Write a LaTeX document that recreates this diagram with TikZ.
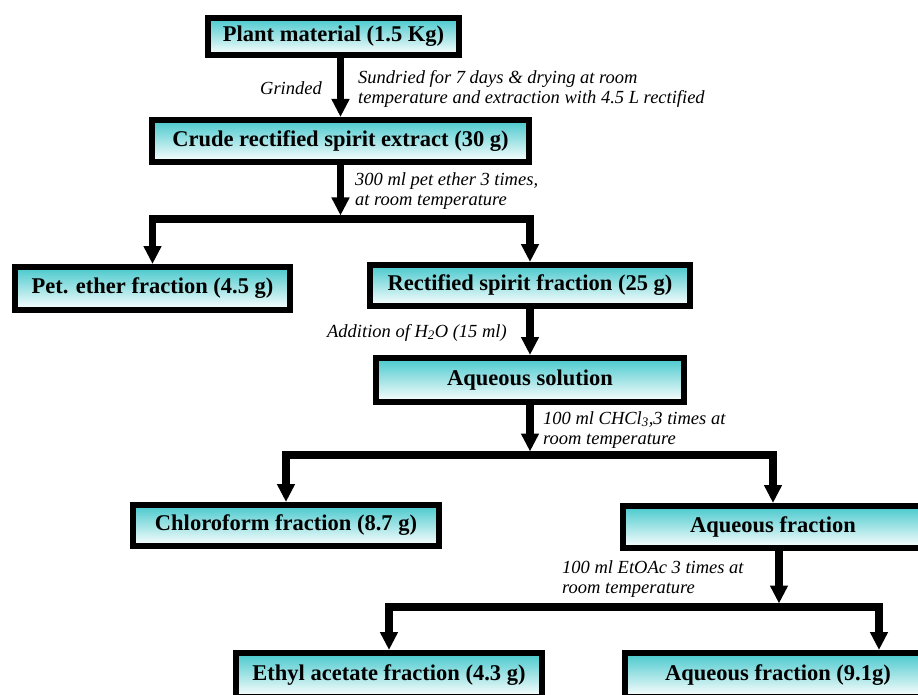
\documentclass[tikz,border=0pt]{standalone}
\usepackage{fontspec}
\setmainfont{Liberation Serif}
\usetikzlibrary{arrows.meta}
\definecolor{BoxCyan}{RGB}{70,200,204}
\tikzset{
  stage/.style={draw=black,line width=6pt,top color=BoxCyan,bottom color=white,
    inner sep=2pt,font=\fontsize{22.5}{26}\selectfont\bfseries},
  flow/.style={draw=black,line width=7.5pt,-{Triangle[width=17pt,length=18pt]}},
}
\tikzset{note/.style={font=\fontsize{18.5}{20.5}\selectfont\itshape,align=left,inner sep=0pt}}

\begin{document}
\begin{tikzpicture}[x=1pt,y=-1pt]
\useasboundingbox[fill=white] (0,0) rectangle (918,695);
% boxes
\node[stage,minimum width=251pt,minimum height=37pt] (plant) at (333.5,36.5) {Plant material (1.5 Kg)};
\node[stage,minimum width=377pt,minimum height=42pt] (crude) at (340.5,141) {Crude rectified spirit extract (30 g)};
\node[stage,minimum width=275pt,minimum height=43pt] (petfrac) at (152.5,288.5) {Pet. ether fraction (4.5 g)};
\node[stage,minimum width=320pt,minimum height=41pt] (rectfrac) at (530,285.5) {Rectified spirit fraction (25 g)};
\node[stage,minimum width=308pt,minimum height=44pt] (aqsol) at (530,380) {Aqueous solution};
\node[stage,minimum width=306pt,minimum height=41pt] (chlorofrac) at (286,525.5) {Chloroform fraction (8.7 g)};
\node[stage,minimum width=300pt,minimum height=42pt] (aqfrac) at (773,527) {Aqueous fraction};
\node[stage,minimum width=306pt,minimum height=44pt] (ethylfrac) at (389,675) {Ethyl acetate fraction (4.3 g)};
\node[stage,minimum width=306pt,minimum height=44pt] (aqrest) at (778,675) {Aqueous fraction (9.1g)};
% branch points
\coordinate (j1) at (crude.south |- 0,219);
\coordinate (j2) at (aqsol.south |- 0,455);
\coordinate (j3) at (779,607);
% arrows
\draw[flow] (plant.south -| crude.north) -- (crude.north);
\draw[flow,shorten >=3.5pt] (crude.south) -- (j1);
\draw[flow] (j1) -| (petfrac.north);
\draw[flow] (j1) -| (rectfrac.north);
\draw[flow] (rectfrac.south) -- (aqsol.north);
\draw[flow,shorten >=3.5pt] (aqsol.south) -- (j2);
\draw[flow] (j2) -| (chlorofrac.north);
\draw[flow] (j2) -| (aqfrac.north);
\draw[flow,shorten >=3.5pt] (aqfrac.south -| j3) -- (j3);
\draw[flow] (j3) -| (ethylfrac.north);
\draw[flow] (j3) -| ([xshift=101pt]aqrest.north);
% labels
\node[note,anchor=base east] (grind) at (322,95) {Grinded};
\node[note,anchor=north west] (sundry) at (358,70) {Sundried for 7 days \& drying at room\\temperature and extraction with 4.5 L rectified};
\node[note,anchor=north west] (petnote) at (355,172) {300 ml pet ether 3 times,\\at room temperature};
\node[note,anchor=base east] (water) at (507,337) {Addition of H\textsubscript{2}O (15 ml)};
\node[note,anchor=north west] (chclnote) at (543,411) {100 ml CHCl\textsubscript{3},3 times at\\room temperature};
\node[note,anchor=north west] (etoacnote) at (562,560) {100 ml EtOAc 3 times at\\room temperature};
\end{tikzpicture}
\end{document}
